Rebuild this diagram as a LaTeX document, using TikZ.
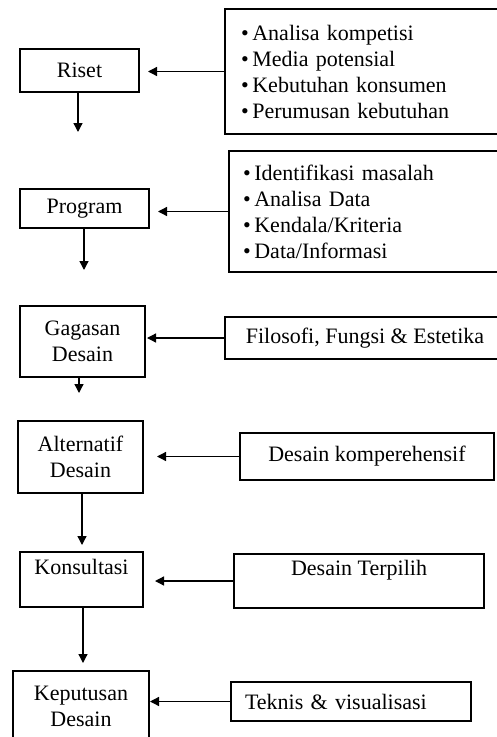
\documentclass[tikz,border=0pt]{standalone}
\usepackage{fontspec}
\setmainfont{Liberation Serif}
\usetikzlibrary{arrows.meta}

\tikzset{
  stage/.style={draw,line width=1.6pt,align=center,inner sep=0pt,outer sep=0pt,anchor=north west},
  info/.style={draw,line width=1.6pt,align=center,inner sep=0pt,outer sep=0pt,anchor=north west},
  arr/.style={line width=1.3pt,-{Triangle[length=9pt,width=9pt]}}
}

\begin{document}
\begin{tikzpicture}
  [x=1pt,y=-1pt,font=\fontsize{22}{26}\selectfont]
  \useasboundingbox (0,0) rectangle (496,737);
  % tahapan
  \node[stage,minimum width=119pt,minimum height=43pt] (riset) at (20,49) {Riset};
  \node[stage,minimum width=129pt,minimum height=39pt] (program) at (20,189) {Program};
  \node[stage,minimum width=125pt,minimum height=71pt] (gagasan) at (20,306) {Gagasan\\Desain};
  \node[stage,minimum width=125pt,minimum height=72pt] (alternatif) at (18,421) {Alternatif\\Desain};
  \node[stage,minimum width=123pt,minimum height=55pt] (konsultasi) at (20,552) {Konsultasi\\~};
  \node[stage,minimum width=136pt,minimum height=70pt] (keputusan) at (13,671) {Keputusan\\Desain};
  % masukan
  \node[info,minimum width=280pt,minimum height=125pt,align=left,text width=248pt] (analisa) at (225,9)
    {•\,Analisa kompetisi\\ •\,Media potensial\\ •\,Kebutuhan konsumen\\ •\,Perumusan kebutuhan};
  \node[info,minimum width=280pt,minimum height=121pt,align=left,text width=252pt] (identifikasi) at (229,151)
    {•\,Identifikasi masalah\\ •\,Analisa Data\\ •\,Kendala/Kriteria\\ •\,Data/Informasi};
  \node[info,minimum width=280pt,minimum height=42pt] (filosofi) at (225,317) {Filosofi, Fungsi \& Estetika};
  \node[info,minimum width=254pt,minimum height=47pt] (komperehensif) at (240,433) {Desain komperehensif};
  \node[info,minimum width=250pt,minimum height=54pt] (terpilih) at (234,554) {Desain Terpilih\\~};
  \node[info,minimum width=240pt,minimum height=39pt,align=left,text width=212pt] (teknis) at (231,682) {Teknis \& visualisasi};
  % ujung panah ke bawah
  \coordinate (d1) at (78,132);
  \coordinate (d2) at (84,270);
  \coordinate (d3) at (79,393);
  \coordinate (d4) at (82,545);
  \coordinate (d5) at (83,663);
  \foreach \from/\to in {riset/d1,program/d2,gagasan/d3,alternatif/d4,konsultasi/d5}
    \draw[arr] (\to |- \from.south) -- (\to);
  \foreach \from/\to/\gap in {analisa/riset/9pt,identifikasi/program/9pt,filosofi/gagasan/2pt,komperehensif/alternatif/14pt,terpilih/konsultasi/12pt,teknis/keputusan/1pt}
    \draw[arr,shorten >=\gap] (\from.west) -- (\from.west -| \to.east);
\end{tikzpicture}
\end{document}
